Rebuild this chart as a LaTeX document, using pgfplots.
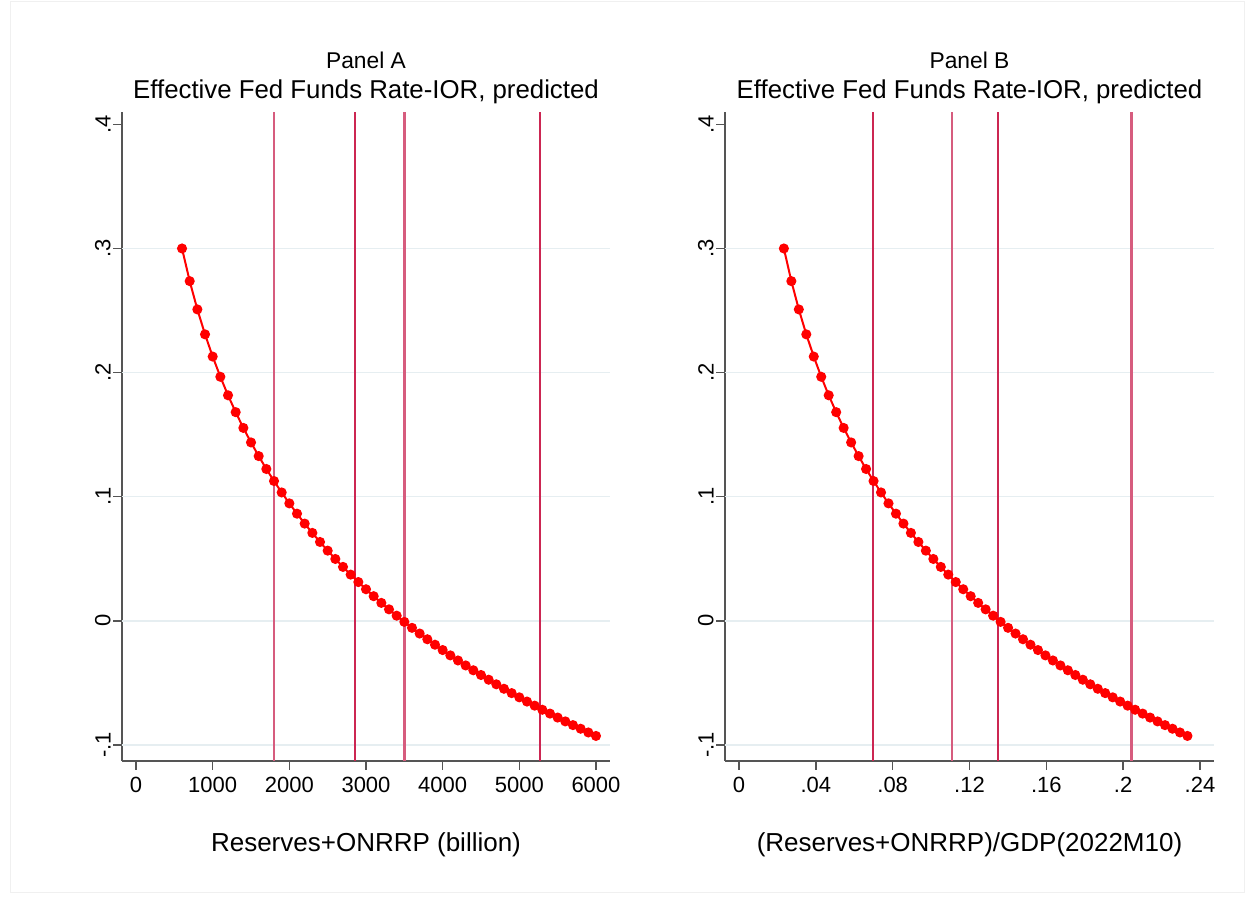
\documentclass[border=0pt]{standalone}
\usepackage{fontspec}
\setmainfont{Liberation Sans}
\usepackage{pgfplots}
\pgfplotsset{compat=1.18}
\usepackage{pgfplotstable}

\definecolor{vline}{RGB}{204,38,82}
\definecolor{vlinel}{RGB}{214,92,126}
\definecolor{gridc}{RGB}{230,238,241}
\definecolor{axisc}{RGB}{85,85,85}

% res = reserves+ONRRP (billion), ratio = res/GDP, fit = predicted EFFR-IOR
\pgfplotstableread{
res  ratio   fit
600  0.02335 0.3000
700  0.02724 0.2737
800  0.03113 0.2509
900  0.03502 0.2308
1000 0.03891 0.2129
1100 0.04280 0.1966
1200 0.04669 0.1817
1300 0.05058 0.1681
1400 0.05447 0.1554
1500 0.05837 0.1437
1600 0.06226 0.1327
1700 0.06615 0.1223
1800 0.07004 0.1126
1900 0.07393 0.1034
2000 0.07782 0.0946
2100 0.08171 0.0863
2200 0.08560 0.0783
2300 0.08949 0.0708
2400 0.09339 0.0635
2500 0.09728 0.0565
2600 0.10117 0.0498
2700 0.10506 0.0434
2800 0.10895 0.0372
2900 0.11284 0.0312
3000 0.11673 0.0254
3100 0.12062 0.0198
3200 0.12451 0.0144
3300 0.12840 0.0092
3400 0.13230 0.0041
3500 0.13619 -0.0009
3600 0.14008 -0.0057
3700 0.14397 -0.0103
3800 0.14786 -0.0149
3900 0.15175 -0.0193
4000 0.15564 -0.0236
4100 0.15953 -0.0279
4200 0.16342 -0.0320
4300 0.16732 -0.0360
4400 0.17121 -0.0399
4500 0.17510 -0.0437
4600 0.17899 -0.0475
4700 0.18288 -0.0512
4800 0.18677 -0.0548
4900 0.19066 -0.0583
5000 0.19455 -0.0617
5100 0.19844 -0.0651
5200 0.20233 -0.0684
5300 0.20623 -0.0717
5400 0.21012 -0.0748
5500 0.21401 -0.0780
5600 0.21790 -0.0811
5700 0.22179 -0.0841
5800 0.22568 -0.0870
5900 0.22957 -0.0900
6000 0.23346 -0.0928
}\curve

\pgfplotsset{
  stata/.style={
    scale only axis, height=324.5pt,
    ymin=-0.113, ymax=0.41,
    axis x line*=bottom, axis y line*=left,
    axis line style={axisc, line width=0.75pt, -},
    tick align=outside, major tick length=4.5pt,
    tick style={axisc, line width=0.75pt},
    /pgf/number format/assume math mode=true,
    /pgf/number format/set thousands separator={},
    ytick={-0.1,0,0.1,0.2,0.3,0.4}, yticklabels={-.1,0,.1,.2,.3,.4},
    yticklabel style={rotate=90, anchor=south, inner sep=1pt, font=\fontsize{11}{13}\selectfont},
    xticklabel style={font=\fontsize{11}{13}\selectfont},
    extra y ticks={-0.1,0,0.1,0.2,0.3}, extra y tick labels={},
    extra y tick style={grid=major, major tick length=0pt, grid style={gridc, line width=0.75pt}},
    xlabel style={at={(axis description cs:0.5,0)}, anchor=center, yshift=-42pt,
      font=\fontsize{13}{15}\selectfont},
  },
  curve/.style={red, line width=1pt, mark=*, mark size=2pt, mark options={fill=red, draw=red}},
  vdark/.style={vline, line width=1pt},
  vlight/.style={vlinel, line width=1.2pt},
}

\begin{document}
\begin{tikzpicture}
\path (0,0) rectangle (626pt,449pt);
\draw[gray!12, line width=0.5pt] (5pt,2.5pt) rectangle (622pt,448pt);

\begin{axis}[stata, at={(61pt,68.5pt)}, anchor=south west, width=244pt,
  xmin=-183, xmax=6183, xtick={0,1000,...,6000},
  xlabel={Reserves+ONRRP (billion)}]
\addplot[vlight] coordinates {(1800,-0.113) (1800,0.41)};
\addplot[vdark]  coordinates {(2850,-0.113) (2850,0.41)};
\addplot[vlight] coordinates {(3500,-0.113) (3500,0.41)};
\addplot[vdark]  coordinates {(5270,-0.113) (5270,0.41)};
\addplot[curve] table[x=res, y=fit] {\curve};
\end{axis}

\begin{axis}[stata, at={(362.5pt,68.5pt)}, anchor=south west, width=244.5pt,
  xmin=-0.0073, xmax=0.2473, xtick={0,0.04,0.08,0.12,0.16,0.2,0.24},
  xticklabels={0,.04,.08,.12,.16,.2,.24},
  xlabel={(Reserves+ONRRP)/GDP(2022M10)}]
\addplot[vdark]  coordinates {(0.0700,-0.113) (0.0700,0.41)};
\addplot[vlight] coordinates {(0.1109,-0.113) (0.1109,0.41)};
\addplot[vdark]  coordinates {(0.1348,-0.113) (0.1348,0.41)};
\addplot[vlight] coordinates {(0.2043,-0.113) (0.2043,0.41)};
\addplot[curve] table[x=ratio, y=fit] {\curve};
\end{axis}

\node[font=\fontsize{11.4}{13}\selectfont] at (183pt,419pt) {Panel A};
\node[font=\fontsize{12.9}{15}\selectfont] at (183pt,403pt) {Effective Fed Funds Rate-IOR, predicted};
\node[font=\fontsize{11.4}{13}\selectfont] at (484.75pt,419pt) {Panel B};
\node[font=\fontsize{12.9}{15}\selectfont] at (484.75pt,403pt) {Effective Fed Funds Rate-IOR, predicted};
\end{tikzpicture}
\end{document}
